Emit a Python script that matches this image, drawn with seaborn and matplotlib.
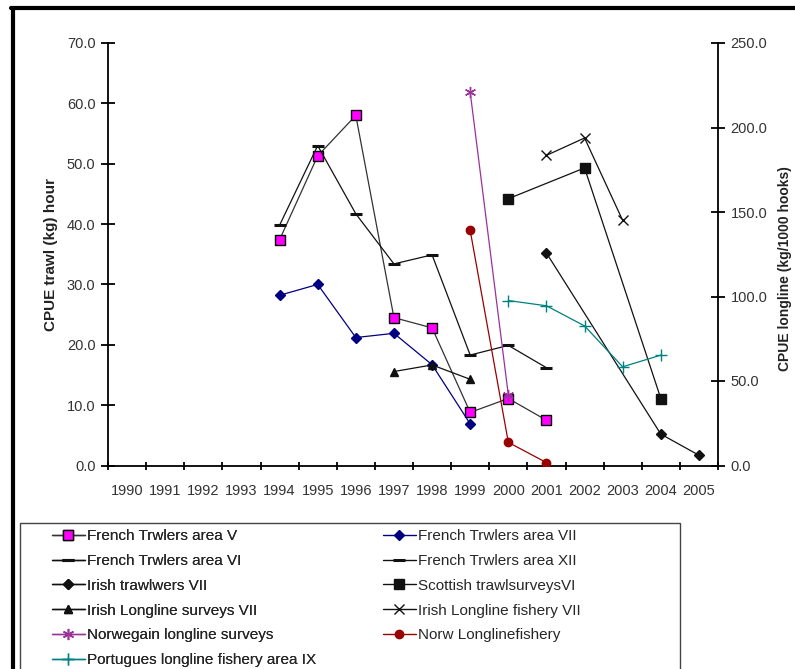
import matplotlib
matplotlib.use("Agg")
import matplotlib.pyplot as plt
from matplotlib.lines import Line2D
from matplotlib.patches import Rectangle
import pandas as pd
import seaborn as sns

# categorias do eixo x
years = [str(y) for y in range(1990, 2006)]

# series de arrasto (eixo esquerdo, kg/hora)
french_v_years = ["1994", "1995", "1996", "1997", "1998", "1999", "2000", "2001"]
french_v = [37.4, 51.3, 58.0, 24.5, 22.8, 8.8, 11.1, 7.5]

french_vii_years = ["1994", "1995", "1996", "1997", "1998", "1999"]
french_vii = [28.2, 30.0, 21.2, 21.9, 16.7, 6.9]

french_vi_years = ["1994", "1995", "1996", "1997", "1998", "1999", "2000", "2001"]
french_vi = [39.8, 53.0, 41.7, 33.4, 34.9, 18.3, 19.9, 16.2]

french_xii_years = []
french_xii = []

irish_trawl_years = ["2001", "2004", "2005"]
irish_trawl = [35.2, 5.2, 1.7]

scottish_years = ["2000", "2002", "2004"]
scottish = [44.2, 49.3, 11.1]

# series de palangre (eixo direito, kg/1000 anzois)
irish_ll_surv_years = ["1997", "1998", "1999"]
irish_ll_surv = [55.6, 59.5, 51.0]

irish_ll_fish_years = ["2001", "2002", "2003"]
irish_ll_fish = [183.5, 193.8, 145.0]

norw_surv_years = ["1999", "2000"]
norw_surv = [220.9, 41.8]

norw_fish_years = ["1999", "2000", "2001"]
norw_fish = [139.1, 13.7, 1.7]

port_years = ["2000", "2001", "2002", "2003", "2004"]
port = [97.6, 94.5, 82.6, 58.4, 65.3]

sns.set_style("ticks")
plt.rcParams["font.family"] = ["Liberation Sans", "DejaVu Sans"]

fig = plt.figure(figsize=(7.95, 6.69), dpi=100)
ax = fig.add_axes([108 / 795, 1 - 465.5 / 669, 610 / 795, 422.5 / 669])
ax2 = ax.twinx()


def desenha(eixo, anos, valores, color, marker, ms, mfc=None, mec=None, mew=1.0):
    pos = [years.index(a) for a in anos]
    df = pd.DataFrame({"x": pos, "y": valores})
    sns.lineplot(data=df, x="x", y="y", ax=eixo, color=color, lw=0.9,
                 marker=marker, markersize=ms,
                 markerfacecolor=mfc if mfc else color,
                 markeredgecolor=mec if mec else color,
                 markeredgewidth=mew, errorbar=None, sort=False)
    return Line2D([], [], color=color, lw=1.0, marker=marker, markersize=ms,
                  markerfacecolor=mfc if mfc else color,
                  markeredgecolor=mec if mec else color, markeredgewidth=mew)


h = {}
h["French Trwlers area V"] = desenha(ax, french_v_years, french_v,
                                     "#333333", "s", 7, mfc="#FF00FF", mec="black")
h["French Trwlers area VII"] = desenha(ax, french_vii_years, french_vii, "#000080", "D", 5)
h["French Trwlers area VI"] = desenha(ax, french_vi_years, french_vi, "#111111", "_", 8, mew=2.2)
h["French Trwlers area XII"] = desenha(ax, french_xii_years, french_xii, "#111111", "_", 8, mew=2.2)
h["Irish trawlwers VII"] = desenha(ax, irish_trawl_years, irish_trawl, "#111111", "D", 5)
h["Scottish trawlsurveysVI"] = desenha(ax, scottish_years, scottish, "#111111", "s", 7)
h["Irish Longline surveys VII"] = desenha(ax2, irish_ll_surv_years, irish_ll_surv, "#111111", "^", 6)
h["Irish Longline fishery VII"] = desenha(ax2, irish_ll_fish_years, irish_ll_fish, "#111111", "x", 7)
h["Norwegain longline surveys"] = desenha(ax2, norw_surv_years, norw_surv, "#993399", (6, 2, 0), 8)
h["Norw Longlinefishery"] = desenha(ax2, norw_fish_years, norw_fish, "#990000", "o", 6)
h["Portugues longline fishery area IX"] = desenha(ax2, port_years, port, "#008080", "+", 8)

# eixos
ax.set_xlim(-0.5, len(years) - 0.5)
ax.set_ylim(0, 70)
ax2.set_ylim(0, 250)
ax.set_xticks(range(len(years)))
ax.set_xticklabels(years)
ax.set_xticks([i - 0.5 for i in range(len(years) + 1)], minor=True)
ax.tick_params(axis="x", which="major", length=0, pad=13, labelsize=10.5, labelcolor="#333333")
ax.tick_params(axis="x", which="minor", length=6, width=1.3, direction="inout", color="black")
ax.set_yticks(range(0, 71, 10))
ax.set_yticklabels([f"{v:.1f}" for v in range(0, 71, 10)])
ax.tick_params(axis="y", length=10, width=1.3, direction="inout", labelsize=10.5,
               labelcolor="#333333", color="black", pad=4)
ax2.set_yticks(range(0, 251, 50))
ax2.set_yticklabels([f"{v:.1f}" for v in range(0, 251, 50)])
ax2.tick_params(axis="y", length=10, width=1.3, direction="inout", labelsize=10.5,
                labelcolor="#333333", color="black", pad=4)

for a in (ax, ax2):
    a.spines["top"].set_visible(False)
    for s in a.spines.values():
        s.set_color("black")
        s.set_linewidth(1.3)
ax.spines["right"].set_visible(False)
ax2.spines["left"].set_visible(False)
ax2.spines["bottom"].set_visible(False)

ax.set_xlabel("")
ax.set_ylabel("CPUE trawl (kg) hour", fontsize=11, fontweight="bold", color="#222222")
ax2.set_ylabel("CPUE longline (kg/1000 hooks)", fontsize=10, fontweight="bold", color="#222222")
ax.yaxis.set_label_coords(-0.082, 0.5)
ax2.yaxis.set_label_coords(1.098, 0.467)

# legenda: duas colunas posicionadas separadamente
col1 = ["French Trwlers area V", "French Trwlers area VI", "Irish trawlwers VII",
        "Irish Longline surveys VII", "Norwegain longline surveys",
        "Portugues longline fishery area IX"]
col2 = ["French Trwlers area VII", "French Trwlers area XII", "Scottish trawlsurveysVI",
        "Irish Longline fishery VII", "Norw Longlinefishery"]
opts = dict(loc="upper left", frameon=False, borderpad=0, borderaxespad=0,
            handlelength=2.15, handletextpad=0.15, labelspacing=0.71,
            prop={"size": 11})
topo = 1 - 529 / 669
leg1 = fig.legend([h[k] for k in col1], col1, bbox_to_anchor=(52 / 795, topo), **opts)
fig.add_artist(leg1)
fig.legend([h[k] for k in col2], col2, bbox_to_anchor=(383 / 795, topo), **opts)
fig.add_artist(Rectangle((19.5 / 795, -0.05), (680 - 19.5) / 795, 0.05 + 1 - 523 / 669,
                         transform=fig.transFigure, fill=False, ec="#444444", lw=1.0))

# moldura externa
fig.add_artist(Line2D([12.5 / 795, 12.5 / 795], [0, 1 - 7.5 / 669],
                      transform=fig.transFigure, color="black", lw=3))
fig.add_artist(Line2D([11 / 795, 1], [1 - 7.5 / 669, 1 - 7.5 / 669],
                      transform=fig.transFigure, color="black", lw=3))

fig.savefig("out.png", dpi=100)
